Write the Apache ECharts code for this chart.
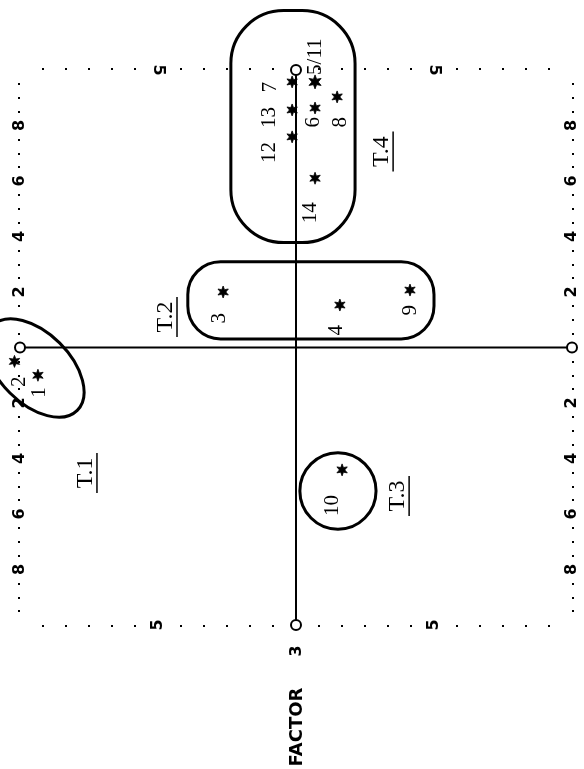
<!DOCTYPE html>
<html>
<head>
<meta charset="utf-8">
<script src="https://cdn.jsdelivr.net/npm/echarts@6/dist/echarts.min.js"></script>
<style>
  html, body { margin: 0; padding: 0; background: #fff; }
  #chart { width: 584px; height: 769px; }
</style>
</head>
<body>
<div id="chart"></div>
<script>
// page is printed sideways: everything is drawn rotated 90deg
// loadings
const pointNames = ['1', '2', '3', '4', '5/11', '6', '7', '8', '9', '10', '12', '13', '14'];
const pointX = [-0.935, -1.02, -0.264, 0.159, 0.069, 0.069, -0.014, 0.149, 0.413, 0.167, -0.014, -0.014, 0.069];
const pointY = [-0.10, -0.05, 0.20, 0.153, 0.957, 0.863, 0.957, 0.903, 0.207, -0.441, 0.759, 0.856, 0.61];

// groups T.1 .. T.4 and the loops drawn round them
const groupNames = ['T.1', 'T.2', 'T.3', 'T.4'];
const groupLabelX = [-0.761, -0.471, 0.37, 0.312];
const groupLabelY = [-0.452, 0.11, -0.535, 0.706];
const hullCenterX = [-0.946, 0.054, 0.152, -0.011];
const hullCenterY = [-0.074, 0.17, -0.517, 0.796];
const hullHalfW = [0.217, 0.446, 0.138, 0.225];
const hullHalfH = [0.127, 0.139, 0.138, 0.418];
const hullTilt = [-45, 0, 0, 0];   // degrees

// axes through the origin, ends marked with a circle
const axisEnds = [-1, 1];

const hullKind = ['ellipse', 'rect', 'ellipse', 'rect'];
// label placement next to each star: [dx, dy, align] in px
const labelPos = {
  '1': [2, 12, 'right'], '2': [5, 15, 'right'], '3': [-4, 21, 'right'],
  '4': [-3, 20, 'right'], '5/11': [0, -7, 'left'], '6': [-2, 9, 'right'],
  '7': [-22, 0, 'right'], '8': [3, 20, 'right'], '9': [0, 15, 'right'],
  '10': [-10, 25, 'right'], '12': [-23, 5, 'right'], '13': [-23, -3, 'right'],
  '14': [-5, 24, 'right']
};
const STAR = 'M0,-10L2.25,-3.9L8.66,-5L4.5,0L8.66,5L2.25,3.9L0,10L-2.25,3.9L-8.66,5L-4.5,0L-8.66,-5L-2.25,-3.9Z';
const SERIF = '"Liberation Serif", serif';
const UP = Math.PI / 2;

function borderAxis(pos, interval, split, fmt) {
  return {
    type: 'value', position: pos, min: -1, max: 1, interval: interval,
    axisLine: { show: false, onZero: false }, axisTick: { show: false }, splitLine: { show: false },
    minorTick: { show: true, splitNumber: split, length: 2, lineStyle: { color: '#000', width: 2 } },
    minorSplitLine: { show: false },
    axisLabel: {
      formatter: fmt, rotate: 90, margin: 0, align: 'center', verticalAlign: 'middle',
      color: '#000', fontFamily: 'DejaVu Sans', fontWeight: 'bold', fontSize: 16
    }
  };
}
const fmtX = v => Math.abs(Math.abs(v) - 0.5) < 1e-6 ? '5' : '';
const fmtY = v => (Math.abs(v) < 1e-6 || Math.abs(v) > 0.99) ? '' : String(Math.round(Math.abs(v) * 10));

function renderHull(params, api) {
  const i = params.dataIndex;
  const c = api.coord([api.value(0), api.value(1)]);
  const s = api.size([api.value(2), api.value(3)]);
  const style = { fill: 'none', stroke: '#000', lineWidth: 3 };
  if (hullKind[i] === 'ellipse') {
    return {
      type: 'ellipse', x: c[0], y: c[1], rotation: hullTilt[i] * Math.PI / 180,
      shape: { cx: 0, cy: 0, rx: s[0], ry: s[1] }, style: style
    };
  }
  return {
    type: 'rect',
    shape: { x: c[0] - s[0], y: c[1] - s[1], width: 2 * s[0], height: 2 * s[1], r: Math.min(s[0], s[1]) * 0.85 },
    style: style
  };
}

function renderPoint(params, api) {
  const name = pointNames[params.dataIndex];
  const p = api.coord([api.value(0), api.value(1)]);
  const s = name === '5/11' ? 14 : 12;
  const lp = labelPos[name];
  return {
    type: 'group',
    children: [
      { type: 'path', shape: { pathData: STAR, x: p[0] - s / 2, y: p[1] - s / 2, width: s, height: s, layout: 'center' },
        style: { fill: '#000', stroke: '#000', lineWidth: 0.8 } },
      { type: 'text', x: p[0] + lp[0], y: p[1] + lp[1], rotation: UP,
        style: { text: name, font: '21px ' + SERIF, fill: '#000', align: lp[2], verticalAlign: 'middle' } }
    ]
  };
}

function renderGroupLabel(params, api) {
  const i = params.dataIndex;
  const p = api.coord([api.value(0), api.value(1)]);
  return {
    type: 'group',
    children: [
      { type: 'text', x: p[0], y: p[1], rotation: UP,
        style: { text: groupNames[i], font: '24px ' + SERIF, fill: '#000', align: 'center', verticalAlign: 'middle' } },
      { type: 'line', shape: { x1: p[0] + 11, y1: p[1] - 20, x2: p[0] + 11, y2: p[1] + 20 }, style: { stroke: '#000', lineWidth: 1.5 } }
    ]
  };
}

const chart = echarts.init(document.getElementById('chart'));
chart.setOption({
  animation: false,
  backgroundColor: '#fff',
  grid: { left: 20, right: 12, top: 70, bottom: 144, outerBoundsMode: 'none' },
  xAxis: [borderAxis('bottom', 0.5, 6, fmtX), borderAxis('top', 0.5, 6, fmtX)],
  yAxis: [borderAxis('left', 0.2, 4, fmtY), borderAxis('right', 0.2, 4, fmtY)],
  graphic: [
    { type: 'text', x: 297, y: 651, rotation: UP,
      style: { text: '3', font: 'bold 16px "DejaVu Sans"', fill: '#000', align: 'center', verticalAlign: 'middle' } },
    { type: 'text', x: 297, y: 727, rotation: UP,
      style: { text: 'FACTOR', font: 'bold 18px "DejaVu Sans"', fill: '#000', align: 'center', verticalAlign: 'middle' } }
  ],
  series: [
    {
      type: 'line', data: axisEnds.map(v => [0, v]), clip: false, silent: true,
      symbol: 'emptyCircle', symbolSize: 10,
      lineStyle: { color: '#000', width: 2 }, itemStyle: { color: '#000', borderWidth: 2 }
    },
    {
      type: 'line', data: axisEnds.map(v => [v, 0]), clip: false, silent: true,
      symbol: 'emptyCircle', symbolSize: 10,
      lineStyle: { color: '#000', width: 2 }, itemStyle: { color: '#000', borderWidth: 2 }
    },
    {
      type: 'custom', renderItem: renderHull, silent: true, clip: false,
      data: hullCenterX.map((x, i) => [x, hullCenterY[i], hullHalfW[i], hullHalfH[i]])
    },
    {
      type: 'custom', renderItem: renderPoint, silent: true, clip: false,
      data: pointX.map((x, i) => [x, pointY[i]])
    },
    {
      type: 'custom', renderItem: renderGroupLabel, silent: true, clip: false,
      data: groupLabelX.map((x, i) => [x, groupLabelY[i]])
    }
  ]
});
</script>
</body>
</html>
